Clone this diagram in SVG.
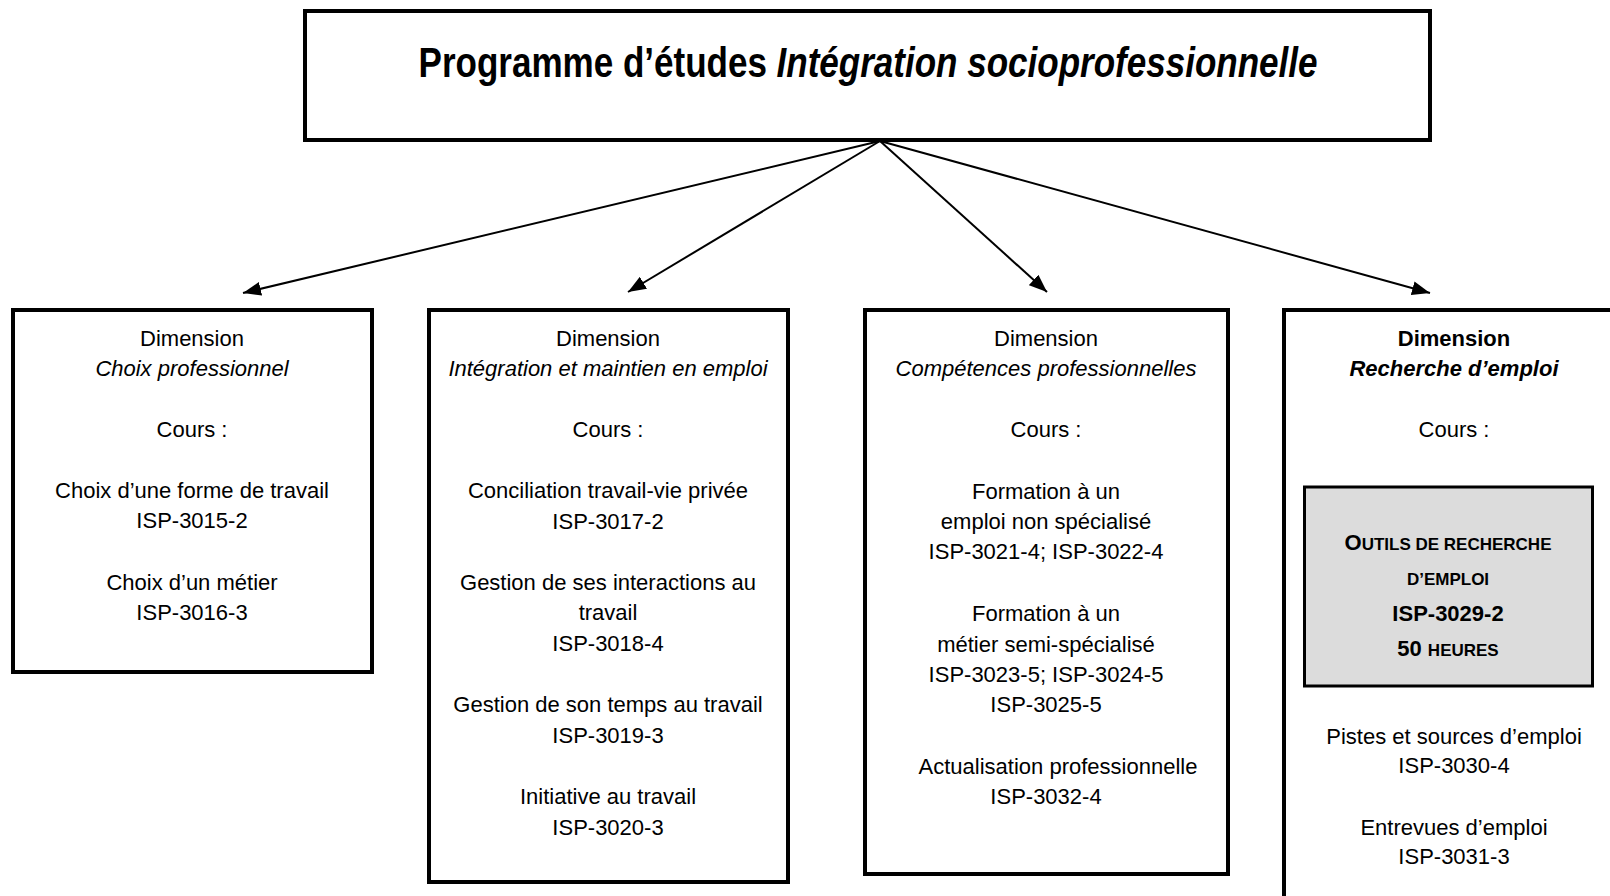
<svg xmlns="http://www.w3.org/2000/svg" width="1610" height="896" viewBox="0 0 1610 896">
<style>
.box{fill:#fff;stroke:#000;stroke-width:4}
.gray{fill:#dcdcdc;stroke:#000;stroke-width:3}
.t{font-family:"Liberation Sans",Arial,sans-serif;font-size:22px;fill:#000;text-anchor:middle}
.i{font-style:italic}
.b{font-weight:bold}
.sc{font-size:17px}
.edge{stroke:#000;stroke-width:2;fill:none;marker-end:url(#ah)}
</style>
<defs>
<marker id="ah" markerUnits="userSpaceOnUse" markerWidth="20" markerHeight="14" refX="18" refY="7" orient="auto">
<path d="M0,0 L18,7 L0,14 Z" fill="#000"/>
</marker>
</defs>
<rect width="1610" height="896" fill="#fff"/>

<g id="connectors">
<line class="edge" x1="880" y1="141" x2="243" y2="293"/>
<line class="edge" x1="880" y1="141" x2="628" y2="292"/>
<line class="edge" x1="880" y1="141" x2="1047" y2="292"/>
<line class="edge" x1="880" y1="141" x2="1430" y2="293"/>
</g>

<g id="title">
<rect class="box" x="305" y="11" width="1125" height="129"/>
<text class="t b" transform="translate(868,77) scale(0.834,1)" style="font-size:42px"><tspan>Programme d’études </tspan><tspan class="i">Intégration socioprofessionnelle</tspan></text>
</g>

<g id="dim-choix">
<rect class="box" x="13" y="310" width="359" height="362"/>
<text class="t" x="192" y="346">Dimension</text>
<text class="t i" x="192" y="376">Choix professionnel</text>
<text class="t" x="192" y="437">Cours :</text>
<text class="t" x="192" y="498">Choix d’une forme de travail</text>
<text class="t" x="192" y="528">ISP-3015-2</text>
<text class="t" x="192" y="590">Choix d’un métier</text>
<text class="t" x="192" y="620">ISP-3016-3</text>
</g>

<g id="dim-integration">
<rect class="box" x="429" y="310" width="359" height="572"/>
<text class="t" x="608" y="346">Dimension</text>
<text class="t i" x="608" y="376">Intégration et maintien en emploi</text>
<text class="t" x="608" y="437">Cours :</text>
<text class="t" x="608" y="498">Conciliation travail-vie privée</text>
<text class="t" x="608" y="529">ISP-3017-2</text>
<text class="t" x="608" y="590">Gestion de ses interactions au</text>
<text class="t" x="608" y="620">travail</text>
<text class="t" x="608" y="651">ISP-3018-4</text>
<text class="t" x="608" y="712">Gestion de son temps au travail</text>
<text class="t" x="608" y="743">ISP-3019-3</text>
<text class="t" x="608" y="804">Initiative au travail</text>
<text class="t" x="608" y="835">ISP-3020-3</text>
</g>

<g id="dim-competences">
<rect class="box" x="865" y="310" width="363" height="564"/>
<text class="t" x="1046" y="346">Dimension</text>
<text class="t i" x="1046" y="376">Compétences professionnelles</text>
<text class="t" x="1046" y="437">Cours :</text>
<text class="t" x="1046" y="499">Formation à un</text>
<text class="t" x="1046" y="529">emploi non spécialisé</text>
<text class="t" x="1046" y="559">ISP-3021-4; ISP-3022-4</text>
<text class="t" x="1046" y="621">Formation à un</text>
<text class="t" x="1046" y="652">métier semi-spécialisé</text>
<text class="t" x="1046" y="682">ISP-3023-5; ISP-3024-5</text>
<text class="t" x="1046" y="712">ISP-3025-5</text>
<text class="t" x="1058" y="774">Actualisation professionnelle</text>
<text class="t" x="1046" y="804">ISP-3032-4</text>
</g>

<g id="dim-recherche">
<rect class="box" x="1284" y="310" width="400" height="700"/>
<text class="t b" x="1454" y="346">Dimension</text>
<text class="t b i" x="1454" y="376">Recherche d’emploi</text>
<text class="t" x="1454" y="437">Cours :</text>
<text class="t" x="1454" y="744">Pistes et sources d’emploi</text>
<text class="t" x="1454" y="773">ISP-3030-4</text>
<text class="t" x="1454" y="835">Entrevues d’emploi</text>
<text class="t" x="1454" y="864">ISP-3031-3</text>
</g>

<g id="cours-outils">
<rect class="gray" x="1304.5" y="487" width="288" height="199"/>
<text class="t b" x="1448" y="550"><tspan>O</tspan><tspan class="sc">UTILS DE RECHERCHE</tspan></text>
<text class="t b sc" x="1448" y="585">D’EMPLOI</text>
<text class="t b" x="1448" y="621">ISP-3029-2</text>
<text class="t b" x="1448" y="656"><tspan>50 </tspan><tspan class="sc">HEURES</tspan></text>
</g>
</svg>
